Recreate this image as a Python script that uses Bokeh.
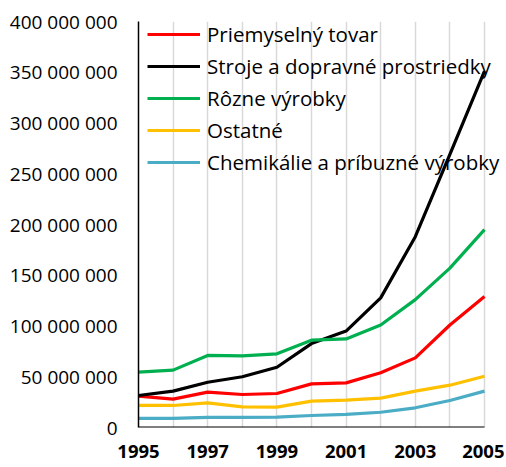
from bokeh.plotting import figure
from bokeh.models import FixedTicker, CustomJSTickFormatter, Range1d, Legend, LegendItem
from bokeh.embed import file_html
from bokeh.resources import INLINE

years = [1995, 1996, 1997, 1998, 1999, 2000, 2001, 2002, 2003, 2004, 2005]
priemyselny = [31.0, 28.0, 34.8, 32.5, 33.5, 43.0, 44.0, 54.0, 68.6, 101.0, 129.0]
stroje = [31.5, 35.8, 44.6, 50.0, 59.4, 82.7, 95.0, 127.7, 188.0, 269.0, 351.0]
rozne = [54.5, 56.5, 71.0, 70.5, 72.6, 86.0, 87.3, 101.0, 126.0, 157.0, 195.0]
ostatne = [21.7, 21.7, 24.3, 20.4, 20.0, 26.0, 27.0, 29.0, 35.8, 41.7, 50.5]
chemikalie = [8.9, 8.9, 10.0, 10.0, 10.3, 11.8, 13.0, 15.0, 19.4, 26.6, 35.8]

series_names = ["Priemyselný tovar", "Stroje a dopravné prostriedky", "Rôzne výrobky",
                "Ostatné", "Chemikálie a príbuzné výrobky"]
series_values = [priemyselny, stroje, rozne, ostatne, chemikalie]
series_colors = ["#FF0000", "#000000", "#00B050", "#FFC000", "#4BACC6"]
y_ticks = [0, 50e6, 100e6, 150e6, 200e6, 250e6, 300e6, 350e6, 400e6]
x_ticks = [1995, 1997, 1999, 2001, 2003, 2005]

FONT = "Open Sans"

# layout geometry (pixels)
W, H = 504, 465
LEFT, TOP, BOTTOM = 138, 21, 38
frame_w = W - LEFT
px_per_year = 346 / (years[-1] - years[0])
x_end = years[0] + frame_w / px_per_year

p = figure(width=W, height=H, output_backend="svg", toolbar_location=None,
           x_range=Range1d(years[0], x_end), y_range=Range1d(0, 400e6),
           min_border_left=LEFT, min_border_right=0, min_border_top=TOP, min_border_bottom=BOTTOM)
p.outline_line_color = None
p.background_fill_color = None
p.border_fill_color = None

p.xgrid.ticker = FixedTicker(ticks=years)
p.xgrid.grid_line_color = "#D9D9D9"
p.xgrid.grid_line_width = 1.5
p.ygrid.grid_line_color = None

renderers = []
for name, vals, col in zip(series_names, series_values, series_colors):
    r = p.line(years, [v * 1e6 for v in vals], line_color=col, line_width=3.2)
    renderers.append((name, r))

# x axis baseline only over the data years
p.segment(x0=[years[0]], x1=[years[-1]], y0=[y_ticks[0]], y1=[y_ticks[0]],
          line_color="#000000", line_width=2)

# axes
p.yaxis.ticker = FixedTicker(ticks=y_ticks)
p.yaxis.formatter = CustomJSTickFormatter(code="""
    return Math.round(tick).toString().replace(/\\B(?=(\\d{3})+(?!\\d))/g, " ");
""")
p.yaxis.major_tick_line_color = None
p.yaxis.minor_tick_line_color = None
p.yaxis.axis_line_color = "#000000"
p.yaxis.axis_line_width = 1.5
p.yaxis.major_label_text_font = FONT
p.yaxis.major_label_text_font_size = "19px"
p.yaxis.major_label_text_color = "#000000"
p.yaxis.major_label_standoff = 15

p.xaxis.ticker = FixedTicker(ticks=x_ticks)
p.xaxis.major_tick_line_color = None
p.xaxis.minor_tick_line_color = None
p.xaxis.axis_line_color = None
p.xaxis.major_label_text_font = FONT
p.xaxis.major_label_text_font_style = "bold"
p.xaxis.major_label_text_font_size = "18.5px"
p.xaxis.major_label_text_color = "#000000"
p.xaxis.major_label_standoff = 11

legend = Legend(items=[LegendItem(label=n, renderers=[r]) for n, r in renderers],
                location=(9, 251), orientation="vertical")
legend.background_fill_alpha = 0
legend.border_line_alpha = 0
legend.label_text_font = FONT
legend.label_text_font_size = "20.5px"
legend.label_text_color = "#000000"
legend.glyph_width = 53
legend.glyph_height = 28
legend.label_height = 28
legend.spacing = 4
legend.label_standoff = 7
legend.padding = 0
legend.margin = 0
p.add_layout(legend, "center")

open("out.html", "w").write(file_html(p, INLINE))
